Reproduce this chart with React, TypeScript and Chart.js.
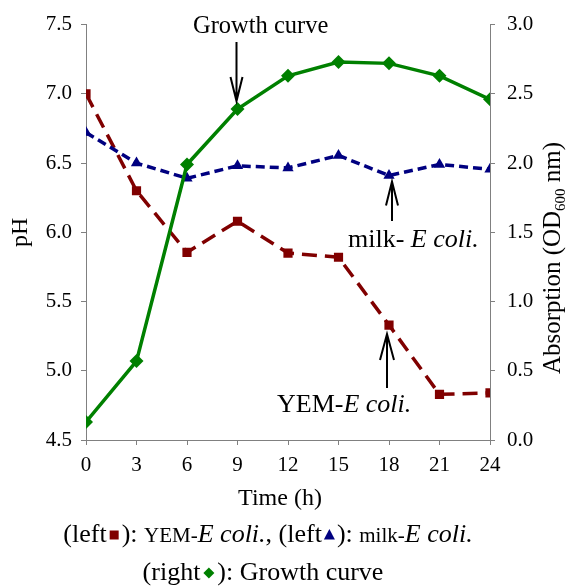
import React, { useEffect, useRef } from "react";
import { Chart, registerables } from "chart.js";

Chart.register(...registerables);

const times = [0, 3, 6, 9, 12, 15, 18, 21, 24];
const yemPH = [7.0, 6.3, 5.855, 6.08, 5.85, 5.82, 5.33, 4.83, 4.84];
const milkPH = [6.72, 6.5, 6.39, 6.48, 6.465, 6.555, 6.41, 6.49, 6.455];
const growthOD = [0.13, 0.57, 1.99, 2.39, 2.63, 2.73, 2.72, 2.63, 2.46];

const RED = "#800000";
const BLUE = "#000080";
const GREEN = "#008000";
const FONT = '"Liberation Serif", "Times New Roman", serif';
const AXIS = "#808080";

type Seg = { t?: string; size?: number; italic?: boolean; marker?: string; color?: string; w?: number; sub?: boolean };

function fontOf(s: Seg, base: number) {
  return `${s.italic ? "italic " : ""}${s.size || base}px ${FONT}`;
}

function segWidth(ctx: CanvasRenderingContext2D, s: Seg, base: number) {
  if (s.marker) return s.w || 14;
  ctx.font = fontOf(s, base);
  return ctx.measureText(s.t || "").width;
}

function drawSegs(ctx: CanvasRenderingContext2D, segs: Seg[], x: number, y: number, base: number, align: "left" | "center") {
  const widths = segs.map((s) => segWidth(ctx, s, base));
  const total = widths.reduce((a, b) => a + b, 0);
  let cx = align === "center" ? x - total / 2 : x;
  ctx.textBaseline = "alphabetic";
  ctx.textAlign = "left";
  segs.forEach((s, i) => {
    const w = widths[i];
    if (s.marker) {
      const mx = cx + w / 2;
      const my = y - 7;
      ctx.fillStyle = s.color || "#000";
      ctx.beginPath();
      if (s.marker === "rect") {
        ctx.rect(mx - 4.5, my - 4.5, 9, 9);
      } else if (s.marker === "tri") {
        ctx.moveTo(mx, my - 6);
        ctx.lineTo(mx + 5.5, my + 4.5);
        ctx.lineTo(mx - 5.5, my + 4.5);
        ctx.closePath();
      } else {
        ctx.moveTo(mx, my - 5.5);
        ctx.lineTo(mx + 5.5, my);
        ctx.lineTo(mx, my + 5.5);
        ctx.lineTo(mx - 5.5, my);
        ctx.closePath();
      }
      ctx.fill();
    } else {
      ctx.font = fontOf(s, base);
      ctx.fillStyle = "#000";
      ctx.fillText(s.t || "", cx, s.sub ? y + 5 : y);
    }
    cx += w;
  });
  return total;
}

function arrow(ctx: CanvasRenderingContext2D, x: number, yTail: number, yTip: number, headLen: number, half: number) {
  const dir = yTip > yTail ? 1 : -1;
  ctx.save();
  ctx.strokeStyle = "#000";
  ctx.lineWidth = 2;
  ctx.beginPath();
  ctx.moveTo(x, yTail);
  ctx.lineTo(x, yTip);
  ctx.moveTo(x - half, yTip - dir * headLen);
  ctx.lineTo(x, yTip);
  ctx.lineTo(x + half, yTip - dir * headLen);
  ctx.stroke();
  ctx.restore();
}

const overlay = {
  id: "overlay",
  afterDraw(chart: any) {
    const ctx: CanvasRenderingContext2D = chart.ctx;
    const xs = chart.scales.x;
    const yl = chart.scales.y;
    const yr = chart.scales.y1;
    ctx.save();

    // Annotations
    drawSegs(ctx, [{ t: "Growth curve" }], 193, 33, 24.5, "left");
    const gx = xs.getPixelForValue(times[3]);
    const gy = yr.getPixelForValue(growthOD[3]);
    arrow(ctx, gx - 1, 42, gy - 8, 24, 6);

    drawSegs(ctx, [{ t: "milk- " }, { t: "E coli.", italic: true }], 348, 247, 26, "left");
    const mx = xs.getPixelForValue(times[6]);
    const my = yl.getPixelForValue(milkPH[6]);
    arrow(ctx, mx + 3, 221, my + 6, 24, 6);

    drawSegs(ctx, [{ t: "YEM-" }, { t: "E coli.", italic: true }], 277, 412, 26, "left");
    const rx = xs.getPixelForValue(times[6]);
    const ry = yl.getPixelForValue(yemPH[6]);
    arrow(ctx, rx - 2, 388, ry + 9, 26, 7);

    // Axis titles
    const midY = (yl.top + yl.bottom) / 2;
    ctx.save();
    ctx.translate(27, midY);
    ctx.rotate(-Math.PI / 2);
    drawSegs(ctx, [{ t: "pH" }], 0, 0, 24, "center");
    ctx.restore();

    ctx.save();
    ctx.translate(560, 258);
    ctx.rotate(-Math.PI / 2);
    drawSegs(
      ctx,
      [{ t: "Absorption (OD" }, { t: "600", size: 15, sub: true }, { t: " nm)" }],
      0,
      0,
      25,
      "center"
    );
    ctx.restore();

    drawSegs(ctx, [{ t: "Time (h)" }], 280, 505, 24, "center");

    // Caption lines
    drawSegs(
      ctx,
      [
        { t: "(left" },
        { marker: "rect", color: RED, w: 15 },
        { t: "): " },
        { t: "YEM-", size: 21 },
        { t: "E coli.", italic: true },
        { t: ", (left" },
        { marker: "tri", color: BLUE, w: 15 },
        { t: "): " },
        { t: "milk-", size: 21 },
        { t: "E coli.", italic: true },
      ],
      268,
      542,
      26,
      "center"
    );
    drawSegs(
      ctx,
      [{ t: "(right" }, { marker: "diamond", color: GREEN, w: 17 }, { t: "): Growth curve" }],
      263,
      580,
      26,
      "center"
    );
    ctx.restore();
  },
};

export default function App() {
  const ref = useRef<HTMLCanvasElement>(null);
  useEffect(() => {
    if (!ref.current) return;
    const tickFont = { family: FONT, size: 21 };
    const chart = new Chart(ref.current, {
      type: "line",
      data: {
        datasets: [
          {
            label: "Growth curve",
            data: times.map((t, i) => ({ x: t, y: growthOD[i] })),
            yAxisID: "y1",
            borderColor: GREEN,
            backgroundColor: GREEN,
            borderWidth: 3.5,
            pointStyle: "rectRot",
            pointRadius: 7,
            pointBorderWidth: 0,
            order: 0,
          },
          {
            label: "milk-E coli.",
            data: times.map((t, i) => ({ x: t, y: milkPH[i] })),
            yAxisID: "y",
            borderColor: BLUE,
            backgroundColor: BLUE,
            borderWidth: 3.5,
            borderDash: [9, 5],
            pointStyle: "triangle",
            pointRadius: 6.5,
            pointBorderWidth: 0,
            order: 1,
          },
          {
            label: "YEM-E coli.",
            data: times.map((t, i) => ({ x: t, y: yemPH[i] })),
            yAxisID: "y",
            borderColor: RED,
            backgroundColor: RED,
            borderWidth: 3.5,
            borderDash: [15, 8],
            pointStyle: "rect",
            pointRadius: 6.5,
            pointBorderWidth: 0,
            order: 2,
          },
        ],
      },
      options: {
        responsive: false,
        animation: false,
        layout: { padding: { top: 23, left: 0, right: 0, bottom: 0 } },
        plugins: { legend: { display: false }, tooltip: { enabled: false } },
        scales: {
          x: {
            type: "linear",
            position: "bottom",
            min: 0,
            max: 24,
            ticks: { stepSize: 3, color: "#000", font: tickFont, padding: 8, maxRotation: 0 },
            grid: { drawOnChartArea: false, drawTicks: true, tickLength: 5, color: AXIS },
            border: { color: AXIS, width: 1 },
            afterFit: (s: any) => {
              s.height = 148;
            },
          },
          y: {
            position: "left",
            min: 4.5,
            max: 7.5,
            ticks: { stepSize: 0.5, color: "#000", font: tickFont, padding: 9, callback: (v: any) => Number(v).toFixed(1) },
            grid: { drawOnChartArea: false, drawTicks: true, tickLength: 5, color: AXIS },
            border: { color: AXIS, width: 1 },
            afterFit: (s: any) => {
              s.width = 86;
            },
          },
          y1: {
            position: "right",
            min: 0,
            max: 3,
            ticks: { stepSize: 0.5, color: "#000", font: tickFont, padding: 12, callback: (v: any) => Number(v).toFixed(1) },
            grid: { drawOnChartArea: false, drawTicks: true, tickLength: 5, color: AXIS },
            border: { color: AXIS, width: 1 },
            afterFit: (s: any) => {
              s.width = 76;
            },
          },
        },
      },
      plugins: [overlay],
    } as any);
    return () => chart.destroy();
  }, []);
  return (
    <div style={{ position: "fixed", left: 0, top: 0, width: 566, height: 588, background: "#fff" }}>
      <canvas ref={ref} width={566} height={588} style={{ display: "block" }} />
    </div>
  );
}
